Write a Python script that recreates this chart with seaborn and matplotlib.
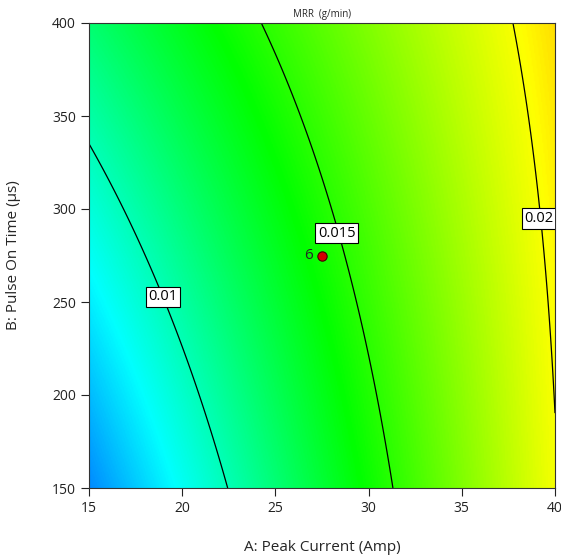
import numpy as np
import pandas as pd
import matplotlib
matplotlib.use("Agg")
import matplotlib.pyplot as plt
import seaborn as sns
from matplotlib.colors import LinearSegmentedColormap

# ---- data ----
a_limits = [15, 40]          # A: Peak Current (Amp)
b_limits = [150, 400]        # B: Pulse On Time (us)
# quadratic model in coded units: b0, A, B, AB, A^2, B^2
coef_names = ["b0", "A", "B", "AB", "A2", "B2"]
coef_values = [0.01443, 0.00584, 0.001676, -0.00121, 0.0, 0.0001]
contour_levels = [0.01, 0.015, 0.02]
label_text = ["0.01", "0.015", "0.02"]
label_pos_a = [18.97, 28.3, 39.14]
label_pos_b = [252.7, 287.0, 295.0]
design_a = [27.5]
design_b = [275]
design_label = ["6"]
x_ticks = [15, 20, 25, 30, 35, 40]
y_ticks = [150, 200, 250, 300, 350, 400]

sns.set_style("ticks")
plt.rcParams['font.family'] = ['Open Sans', 'DejaVu Sans']

fig = plt.figure(figsize=(5.61, 5.57), dpi=100)
ax = fig.add_axes([89/561, 1-488/557, (555-89)/561, (488-23)/557])

c = dict(zip(coef_names, coef_values))
A = np.linspace(a_limits[0], a_limits[1], 400)
B = np.linspace(b_limits[0], b_limits[1], 400)
AA, BB = np.meshgrid(A, B)
x1 = (AA - np.mean(a_limits)) / ((a_limits[1] - a_limits[0]) / 2)
x2 = (BB - np.mean(b_limits)) / ((b_limits[1] - b_limits[0]) / 2)
Z = (c["b0"] + c["A"]*x1 + c["B"]*x2 + c["AB"]*x1*x2
     + c["A2"]*x1**2 + c["B2"]*x2**2)

cmap = LinearSegmentedColormap.from_list(
    "de", [(0.0, (0, 0, 1)), (0.25, (0, 1, 1)), (0.5, (0, 1, 0)),
           (0.77, (1, 1, 0)), (1.0, (1, 0, 0))])
ax.imshow(Z, origin="lower", extent=[a_limits[0], a_limits[1], b_limits[0], b_limits[1]],
          aspect="auto", cmap=cmap, vmin=0.0027, vmax=0.0254, interpolation="bilinear")

cs = ax.contour(AA, BB, Z, levels=contour_levels, colors="black", linewidths=0.9)
texts = ax.clabel(cs, inline=False, fontsize=10.5, fmt=lambda v: f"{v:g}",
                  manual=list(zip(label_pos_a, label_pos_b)))
pos = {t: (a, b) for t, a, b in zip(label_text, label_pos_a, label_pos_b)}
for t in texts:
    t.set_rotation(0)
    if t.get_text() in pos:
        t.set_position(pos[t.get_text()])
    t.set_bbox(dict(facecolor="white", edgecolor="black", linewidth=0.8, pad=2))
    t.set_zorder(5)

pts = pd.DataFrame({"A": design_a, "B": design_b, "lab": design_label})
sns.scatterplot(data=pts, x="A", y="B", ax=ax, s=45, color="#d40000",
                edgecolor="#400000", linewidth=0.8, zorder=6, legend=False)
for _, r in pts.iterrows():
    ax.text(r["A"] - 0.5, r["B"], r["lab"], ha="right", va="center", fontsize=11, zorder=6)

ax.set_xlim(a_limits)
ax.set_ylim(b_limits)
ax.set_xticks(x_ticks)
ax.set_yticks(y_ticks)
ax.tick_params(direction="out", length=6, width=0.8, labelsize=10, colors="#222222")
for s in ax.spines.values():
    s.set_color("#333333")
    s.set_linewidth(0.8)
ax.set_title("MRR  (g/min)", fontsize=7, pad=4)
ax.set_xlabel("A: Peak Current (Amp)", fontsize=11, labelpad=17)
ax.set_ylabel("B: Pulse On Time (µs)", fontsize=11, labelpad=22)

fig.savefig("out.png", dpi=100)
